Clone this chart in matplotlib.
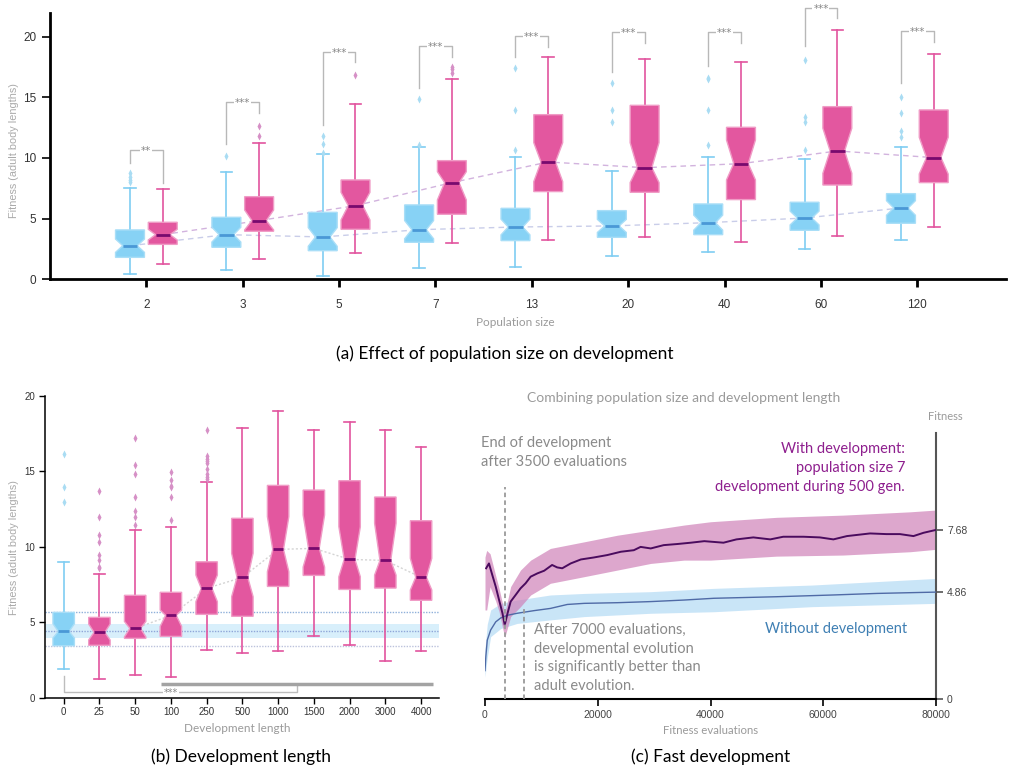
import numpy as np
import matplotlib
matplotlib.use("Agg")
import matplotlib.pyplot as plt

# ---------------- data: panel (a) population size ----------------
pop_labels = ["2", "3", "5", "7", "13", "20", "40", "60", "120"]

a_blue_whislo = [0.41, 0.77, 0.25, 0.91, 0.99, 1.90, 2.23, 2.47, 3.21]
a_blue_q1 = [1.81, 2.64, 2.36, 3.05, 3.19, 3.46, 3.68, 4.04, 4.62]
a_blue_med = [2.77, 3.68, 3.49, 4.09, 4.31, 4.40, 4.67, 5.05, 5.88]
a_blue_q3 = [4.07, 5.11, 5.52, 6.13, 5.85, 5.66, 6.21, 6.35, 7.06]
a_blue_whishi = [7.50, 8.82, 10.30, 10.90, 10.05, 8.96, 10.05, 9.95, 10.88]
a_blue_cilo = [2.22, 3.07, 2.72, 3.34, 3.66, 3.86, 4.05, 4.48, 5.28]
a_blue_cihi = [3.32, 4.29, 4.26, 4.84, 4.96, 4.94, 5.29, 5.62, 6.48]
a_blue_fliers = [[8.05, 8.19, 8.46, 8.79], [10.14], [10.44, 11.15, 11.84],
                 [11.10, 14.89], [10.63, 13.93, 17.39], [13.00, 13.96, 16.15],
                 [11.10, 13.93, 16.48, 16.57], [10.63, 13.00, 13.35, 18.05],
                 [11.76, 12.23, 13.74, 15.00]]

a_pink_whislo = [1.24, 1.65, 2.14, 2.97, 3.21, 3.46, 3.05, 3.54, 4.29]
a_pink_q1 = [2.88, 3.96, 4.12, 5.36, 7.23, 7.17, 6.57, 7.77, 7.97]
a_pink_med = [3.68, 4.84, 6.07, 7.97, 9.67, 9.20, 9.53, 10.58, 10.03]
a_pink_q3 = [4.70, 6.81, 8.19, 9.78, 13.57, 14.34, 12.53, 14.23, 13.96]
a_pink_whishi = [7.42, 11.21, 14.42, 16.54, 18.35, 18.19, 17.88, 20.58, 18.54]
a_pink_cilo = [3.24, 4.07, 4.89, 6.54, 8.05, 7.97, 8.19, 8.74, 8.68]
a_pink_cihi = [4.12, 5.71, 7.17, 8.87, 11.26, 11.26, 11.48, 12.45, 11.70]
a_pink_fliers = [[], [11.81, 12.64], [16.81], [17.03, 17.36, 17.53], [], [], [], [], []]

a_sig_labels = ["**", "***", "***", "***", "***", "***", "***", "***", "***"]
a_sig_top = [10.63, 14.59, 18.76, 19.20, 20.05, 20.36, 20.36, 22.40, 20.44]
a_sig_left = [9.60, 11.15, 12.72, 15.74, 18.30, 17.10, 17.58, 19.23, 16.15]
a_sig_right = [7.94, 13.70, 17.88, 18.30, 19.18, 19.45, 19.45, 21.50, 19.59]

# ---------------- data: panel (b) development length ----------------
dev_labels = ["0", "25", "50", "100", "250", "500", "1000", "1500", "2000", "3000", "4000"]
b_whislo = [1.88, 1.21, 1.48, 1.35, 3.13, 2.94, 3.07, 4.06, 3.47, 2.41, 3.07]
b_q1 = [3.44, 3.47, 3.93, 4.06, 5.52, 5.39, 7.37, 8.10, 7.17, 7.26, 6.45]
b_med = [4.39, 4.33, 4.59, 5.45, 7.24, 7.97, 9.82, 9.89, 9.16, 9.09, 7.97]
b_q3 = [5.65, 5.32, 6.78, 6.98, 9.00, 11.88, 14.06, 13.75, 14.37, 13.29, 11.72]
b_whishi = [9.00, 8.17, 11.13, 11.32, 14.26, 17.88, 18.96, 17.70, 18.23, 17.70, 16.58]
b_cilo = [3.95, 3.82, 4.02, 4.72, 6.36, 6.69, 8.34, 8.65, 8.01, 8.12, 7.13]
b_cihi = [4.90, 4.88, 5.05, 5.81, 8.12, 9.56, 11.99, 12.10, 11.32, 11.55, 9.23]
b_fliers = [[12.98, 13.97, 16.14],
            [8.57, 8.68, 9.12, 9.45, 10.33, 10.75, 11.99, 13.66],
            [11.46, 11.94, 12.38, 13.31, 14.83, 15.43, 17.20],
            [11.77, 13.31, 13.93, 14.02, 14.42, 14.97],
            [14.50, 14.64, 14.79, 15.12, 15.52, 15.65, 15.83, 16.00, 17.73],
            [], [], [], [], [], []]

# ---------------- data: panel (c) fast development ----------------
dev_evals = [200, 700, 1300, 1900, 2500, 3100, 3500, 4000, 4550, 5430, 6300, 7200, 8100,
             9300, 10500, 11900, 12800, 13700, 15200, 17000, 19300, 21700, 24100, 26400,
             27600, 29400, 31700, 34100, 36500, 38900, 42300, 44600, 47600, 50600, 52900,
             56500, 59400, 61800, 64200, 68300, 71200, 73600, 76000, 77800, 80000]
dev_mean = [5.94, 6.16, 5.63, 5.11, 4.50, 3.90, 3.37, 3.90, 4.43, 4.73, 5.03, 5.26, 5.56,
            5.71, 5.83, 6.09, 5.98, 5.94, 6.16, 6.34, 6.43, 6.54, 6.69, 6.76,
            6.91, 6.84, 6.99, 7.04, 7.10, 7.17, 7.10, 7.25, 7.34, 7.25, 7.37,
            7.37, 7.34, 7.25, 7.40, 7.52, 7.49, 7.49, 7.40, 7.55, 7.68]
dev_band_x = [0, 300, 900, 1900, 2500, 3500, 4550, 6300, 8100, 11600, 17600, 23500,
              29400, 35300, 40000, 51700, 63500, 75400, 80000]
dev_band_lo = [4.05, 4.05, 5.10, 4.45, 3.97, 2.80, 3.75, 4.20, 4.73, 5.26, 5.56, 5.86,
               6.16, 6.31, 6.31, 6.49, 6.54, 6.69, 6.80]
dev_band_hi = [6.45, 6.75, 6.60, 5.60, 5.02, 3.90, 5.11, 5.86, 6.31, 6.84, 7.14, 7.44,
               7.67, 7.90, 8.05, 8.25, 8.35, 8.50, 8.58]

adult_evals = [0, 150, 400, 1000, 1900, 2800, 4000, 5700, 8700, 11600, 14600, 17600,
               23500, 29400, 35300, 40600, 51700, 61800, 69500, 80000]
adult_mean = [1.30, 1.95, 2.68, 3.14, 3.51, 3.69, 3.81, 3.90, 4.02, 4.12, 4.30, 4.35,
              4.38, 4.43, 4.50, 4.58, 4.65, 4.73, 4.80, 4.86]
adult_band_x = [0, 400, 1000, 2800, 5700, 11600, 17600, 29400, 40600, 58000, 80000]
adult_band_lo = [1.00, 1.90, 2.84, 3.21, 3.44, 3.60, 3.75, 3.90, 3.97, 4.20, 4.35]
adult_band_hi = [2.30, 3.40, 4.05, 4.35, 4.50, 4.73, 4.80, 4.88, 5.03, 5.18, 5.48]
c_right_ticks = [0, 4.86, 7.68]
c_x_ticks = [0, 20000, 40000, 60000, 80000]

# ---------------- style ----------------
BLUE = "#87d2f5"; BLUE_EDGE = "#a9def7"; BLUE_MED = "#4a98d6"; BLUE_W = "#7fcdf2"; BLUE_FL = "#a9dcf3"
PINK = "#e3579f"; PINK_EDGE = "#f09cc6"; PINK_MED = "#780a6e"; PINK_W = "#e2549e"; PINK_FL = "#d690c6"
GRAY_TXT = "#9a9a9a"
TICKFONT = "Liberation Sans"
TXTFONT = "Lato"

W, H = 1010, 771
fig = plt.figure(figsize=(W / 100, H / 100), dpi=100)


def rect(l, t, r, b):
    return [l / W, 1 - b / H, (r - l) / W, (b - t) / H]


def fx(x):
    return x / W


def fy(y):
    return 1 - y / H


def make_stats(whislo, q1, med, q3, whishi, cilo, cihi, fliers):
    return [dict(whislo=a, q1=b, med=c, q3=d, whishi=e, cilo=f, cihi=g, fliers=h)
            for a, b, c, d, e, f, g, h in zip(whislo, q1, med, q3, whishi, cilo, cihi, fliers)]


def draw_boxes(ax, stats, pos, width, cap, face, edge, med, wcol, flc, z=3):
    ax.bxp(stats, positions=pos, widths=width, capwidths=cap, shownotches=True,
           patch_artist=True, manage_ticks=False,
           boxprops=dict(facecolor=face, edgecolor=edge, linewidth=1, zorder=z),
           medianprops=dict(color=med, linewidth=2, zorder=z + 0.1),
           whiskerprops=dict(color=wcol, linewidth=1.2, zorder=z - 0.1),
           capprops=dict(color=wcol, linewidth=1.2, zorder=z - 0.1),
           flierprops=dict(marker="d", markersize=4, markerfacecolor=flc,
                           markeredgecolor="none", zorder=z))


# ================= panel (a) =================
axA = fig.add_axes(rect(50, 13, 1006, 279.3))
posA = np.arange(len(pop_labels))
off = 0.17
blue_stats = make_stats(a_blue_whislo, a_blue_q1, a_blue_med, a_blue_q3, a_blue_whishi,
                        a_blue_cilo, a_blue_cihi, a_blue_fliers)
pink_stats = make_stats(a_pink_whislo, a_pink_q1, a_pink_med, a_pink_q3, a_pink_whishi,
                        a_pink_cilo, a_pink_cihi, a_pink_fliers)
draw_boxes(axA, blue_stats, posA - off, 0.30, 0.12, BLUE, BLUE_EDGE, BLUE_MED, BLUE_W, BLUE_FL)
draw_boxes(axA, pink_stats, posA + off, 0.30, 0.12, PINK, PINK_EDGE, PINK_MED, PINK_W, PINK_FL)
axA.plot(posA - off, a_blue_med, ls=(0, (4, 3)), color="#c9cde9", lw=1, zorder=1)
axA.plot(posA + off, a_pink_med, ls=(0, (4, 3)), color="#d2b3de", lw=1, zorder=1)
for i in range(len(pop_labels)):
    xl, xr = posA[i] - off, posA[i] + off
    axA.plot([xl, xl, xr, xr], [a_sig_left[i], a_sig_top[i], a_sig_top[i], a_sig_right[i]],
             color="#b8b8b8", lw=1, clip_on=False, zorder=2)
    axA.text(posA[i], a_sig_top[i], a_sig_labels[i], ha="center", va="center_baseline",
             fontsize=7.5, color="#888888", clip_on=False, zorder=2.5,
             bbox=dict(facecolor="white", edgecolor="none", pad=0.6))
axA.set_xlim(-1, 8.92)
axA.set_ylim(0, 21.95)
axA.set_xticks(posA)
axA.set_xticklabels(pop_labels)
axA.set_yticks([0, 5, 10, 15, 20])
for s in ["top", "right"]:
    axA.spines[s].set_visible(False)
for s in ["left", "bottom"]:
    axA.spines[s].set_linewidth(2)
axA.tick_params(axis="x", direction="out", length=6, width=2, pad=8, labelsize=8.5,
                labelcolor="#333333")
axA.tick_params(axis="y", direction="out", length=6, width=1.2, pad=4, labelsize=8.5,
                labelcolor="#333333")
for lab in axA.get_xticklabels() + axA.get_yticklabels():
    lab.set_family(TICKFONT)
fig.text(fx(515), fy(322), "Population size", ha="center", va="center", fontsize=8.5,
         color=GRAY_TXT, family=TXTFONT)
fig.text(fx(14), fy(151), "Fitness (adult body lengths)", ha="center", va="center",
         rotation=90, fontsize=7.8, color="#aaaaaa", family=TICKFONT)
fig.text(fx(505), fy(354), "(a) Effect of population size on development", ha="center",
         va="center", fontsize=12.5, color="black", family=TXTFONT)

# ================= panel (b) =================
axB = fig.add_axes(rect(45, 395.7, 439.3, 697.7))
posB = np.arange(len(dev_labels))
statsB = make_stats(b_whislo, b_q1, b_med, b_q3, b_whishi, b_cilo, b_cihi, b_fliers)
axB.axhspan(b_cilo[0], b_cihi[0], color="#d8effb", zorder=0.5, lw=0)
axB.axhline(b_q3[0], color="#8fb0da", ls=(0, (1, 1)), lw=1, zorder=0.6)
axB.axhline(b_med[0], color="#8fa6d8", ls=(0, (1, 1)), lw=1, zorder=0.6)
axB.axhline(b_q1[0], color="#bcc2dc", ls=(0, (1, 1)), lw=1, zorder=0.6)
axB.plot(posB[2:], b_med[2:], ls=(0, (1.5, 1.5)), color="#d4d4d4", lw=1, zorder=1)
draw_boxes(axB, statsB[:1], posB[:1], 0.6, 0.3, BLUE, BLUE_EDGE, BLUE_MED, BLUE_W, BLUE_FL)
draw_boxes(axB, statsB[1:], posB[1:], 0.6, 0.3, PINK, PINK_EDGE, PINK_MED, PINK_W, PINK_FL)
# significance bracket
axB.plot([0, 0, 6.54, 6.54], [1.43, 0.35, 0.35, 0.88], color="#bdbdbd", lw=1, zorder=1)
axB.plot([2.73, 10.33], [0.88, 0.88], color="#a3a3a3", lw=2.5, zorder=1.1,
         solid_capstyle="butt")
axB.text(3.0, 0.35, "***", ha="center", va="center_baseline", fontsize=7, color="#888888",
         zorder=1.2, bbox=dict(facecolor="white", edgecolor="none", pad=0.6))
axB.set_xlim(-0.523, 10.51)
axB.set_ylim(0, 20)
axB.set_xticks(posB)
axB.set_xticklabels(dev_labels)
axB.set_yticks([0, 5, 10, 15, 20])
for s in ["top", "right"]:
    axB.spines[s].set_visible(False)
for s in ["left", "bottom"]:
    axB.spines[s].set_linewidth(1.1)
axB.tick_params(axis="both", direction="out", length=4, width=1, pad=3, labelsize=7,
                labelcolor="#333333")
for lab in axB.get_xticklabels() + axB.get_yticklabels():
    lab.set_family(TICKFONT)
fig.text(fx(237), fy(729), "Development length", ha="center", va="center", fontsize=8.5,
         color=GRAY_TXT, family=TXTFONT)
fig.text(fx(14), fy(548), "Fitness (adult body lengths)", ha="center", va="center",
         rotation=90, fontsize=7.8, color="#aaaaaa", family=TICKFONT)
fig.text(fx(241), fy(757), "(b) Development length", ha="center", va="center",
         fontsize=12.5, color="black", family=TXTFONT)

# ================= panel (c) =================
axC = fig.add_axes(rect(485, 433.3, 936, 699.3))
axC.fill_between(adult_band_x, adult_band_lo, adult_band_hi, color="#a6d4f3", alpha=0.6,
                 lw=0, zorder=1)
axC.fill_between(dev_band_x, dev_band_lo, dev_band_hi, color="#cf82b9", alpha=0.7,
                 lw=0, zorder=2)
axC.plot(adult_evals, adult_mean, color="#4f6aa6", lw=1, zorder=3)
axC.plot(dev_evals, dev_mean, color="#4a0b5e", lw=1.4, zorder=4)
axC.plot([3500, 3500], [0, 9.64], color="#9a9a9a", lw=1.3, ls=(0, (2.5, 1.8)), zorder=5)
axC.plot([7000, 7000], [0, 4.2], color="#9a9a9a", lw=1.3, ls=(0, (2.5, 1.8)), zorder=5)
axC.set_xlim(0, 80000)
axC.set_ylim(0, 12.06)
axC.set_xticks(c_x_ticks)
axC.set_xticklabels([str(v) for v in c_x_ticks])
axC.yaxis.tick_right()
axC.set_yticks(c_right_ticks)
axC.set_yticklabels(["0", "4.86", "7.68"])
for s in ["top", "left"]:
    axC.spines[s].set_visible(False)
axC.spines["bottom"].set_linewidth(1.5)
axC.spines["right"].set_linewidth(1.5)
axC.spines["right"].set_color("#555555")
axC.tick_params(axis="x", direction="out", length=5, width=1.2, pad=3, labelsize=7.5,
                labelcolor="#444444")
axC.tick_params(axis="y", direction="out", length=5, width=1.2, pad=3, labelsize=7.5,
                labelcolor="#444444", color="#555555")
for lab in axC.get_xticklabels() + axC.get_yticklabels():
    lab.set_family(TICKFONT)
fig.text(fx(684), fy(398), "Combining population size and development length", ha="center",
         va="center", fontsize=10, color=GRAY_TXT, family=TXTFONT)
fig.text(fx(945), fy(416), "Fitness", ha="center", va="center", fontsize=8,
         color=GRAY_TXT, family=TXTFONT)
fig.text(fx(481), fy(452.7), "End of development\nafter 3500 evaluations", ha="left",
         va="center", fontsize=10.5, color="#8a8a8a", family=TXTFONT, linespacing=1.45)
fig.text(fx(905), fy(467.7), "With development:\npopulation size 7\ndevelopment during 500 gen.",
         ha="right", va="center", multialignment="right", fontsize=10.5, color="#8e1f8e",
         family=TXTFONT, linespacing=1.45)
fig.text(fx(534), fy(658), "After 7000 evaluations,\ndevelopmental evolution\n"
         "is significantly better than\nadult evolution.", ha="left", va="center",
         fontsize=10.5, color="#8a8a8a", family=TXTFONT, linespacing=1.45)
fig.text(fx(907), fy(629.3), "Without development", ha="right", va="center", fontsize=10.5,
         color="#3e7fb3", family=TXTFONT)
fig.text(fx(711), fy(730), "Fitness evaluations", ha="center", va="center", fontsize=8.2,
         color=GRAY_TXT, family=TXTFONT)
fig.text(fx(711), fy(757), "(c) Fast development", ha="center", va="center",
         fontsize=12.5, color="black", family=TXTFONT)

fig.savefig("out.png", dpi=100)
